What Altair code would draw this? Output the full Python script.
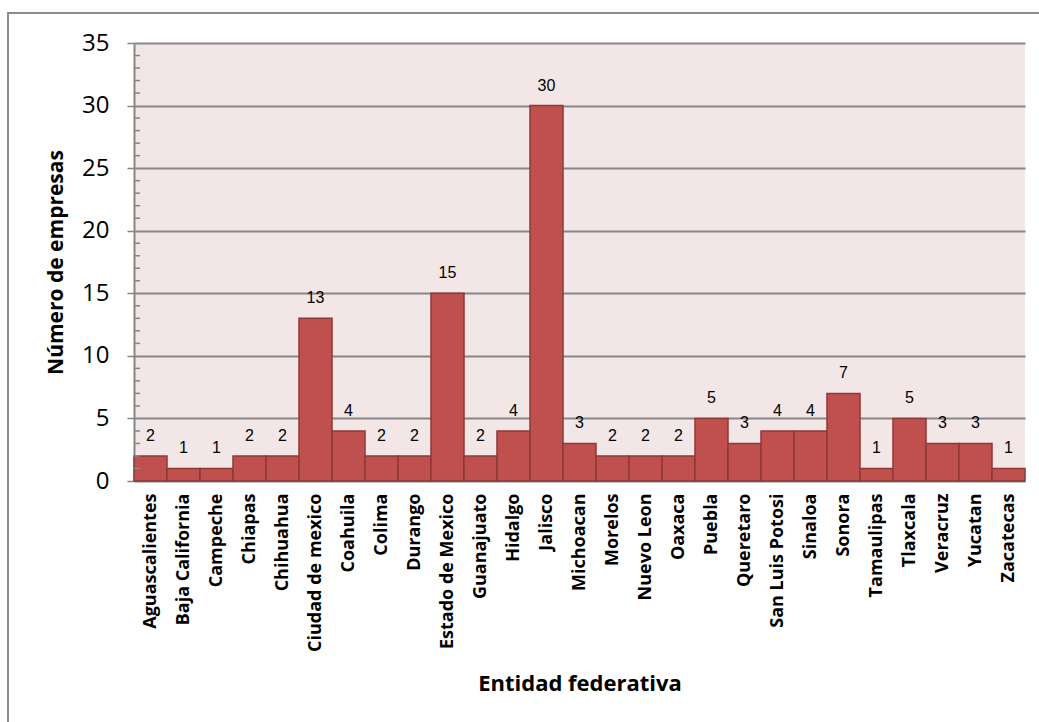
import altair as alt
import pandas as pd

# Companies per federal entity
estados = [
    "Aguascalientes", "Baja California", "Campeche", "Chiapas", "Chihuahua",
    "Ciudad de mexico", "Coahuila", "Colima", "Durango", "Estado de Mexico",
    "Guanajuato", "Hidalgo", "Jalisco", "Michoacan", "Morelos", "Nuevo Leon",
    "Oaxaca", "Puebla", "Queretaro", "San Luis Potosi", "Sinaloa", "Sonora",
    "Tamaulipas", "Tlaxcala", "Veracruz", "Yucatan", "Zacatecas",
]
empresas = [2, 1, 1, 2, 2, 13, 4, 2, 2, 15, 2, 4, 30, 3, 2, 2, 2, 5, 3, 4, 4, 7, 1, 5, 3, 3, 1]
minor_ticks = [v for v in range(0, 36) if v % 5 != 0]

df = pd.DataFrame({"estado": estados, "empresas": empresas})
minor_df = pd.DataFrame({"v": minor_ticks})

W, H = 891, 438
FONT = "Open Sans"

x_enc = alt.X(
    "estado:N",
    sort=estados,
    scale=alt.Scale(paddingInner=0, paddingOuter=0),
    axis=alt.Axis(
        title="Entidad federativa",
        labelAngle=-90,
        labelAlign="right",
        labelBaseline="middle",
        labelFont=FONT,
        labelFontWeight="bold",
        labelFontSize=18,
        labelColor="black",
        labelPadding=12,
        ticks=False,
        domain=False,
        titleFont=FONT,
        titleFontSize=22,
        titleFontWeight="bold",
        titleColor="black",
        titleY=202,
        titleBaseline="middle",
    ),
)
y_scale = alt.Scale(domain=[0, 35], nice=False)

bars = alt.Chart(df).mark_bar(
    color="#C0504D", stroke="#8C3A38", strokeWidth=1.5
).encode(
    x=x_enc,
    y=alt.Y(
        "empresas:Q",
        scale=y_scale,
        axis=alt.Axis(
            title="Número de empresas",
            values=[0, 5, 10, 15, 20, 25, 30, 35],
            labelFont=FONT,
            labelFontSize=24,
            labelColor="black",
            labelPadding=18,
            tickSize=7,
            tickColor="#868686",
            tickWidth=1.5,
            domainColor="#868686",
            domainWidth=2,
            grid=True,
            gridColor="#868686",
            gridWidth=2,
            titleFont=FONT,
            titleFontSize=21,
            titleFontWeight="bold",
            titleColor="black",
            titlePadding=15,
        ),
    ),
)

labels = alt.Chart(df).mark_text(
    font="Liberation Sans", fontSize=16, color="black", baseline="alphabetic", dy=-15
).encode(
    x=alt.X("estado:N", sort=estados),
    y=alt.Y("empresas:Q", scale=y_scale),
    text="empresas:Q",
)

minor = alt.Chart(minor_df).mark_rule(color="#868686", strokeWidth=1.5).encode(
    x=alt.value(0),
    x2=alt.value(6),
    y=alt.Y("v:Q", scale=y_scale),
)

frame = alt.Chart(df).mark_rect(
    fill=None, stroke="#8C8C8C", strokeWidth=2
).encode(
    x=alt.value(-126), x2=alt.value(940),
    y=alt.value(-30), y2=alt.value(720),
)

chart = alt.layer(bars, labels, minor, frame).properties(
    width=W,
    height=H,
    autosize=alt.AutoSizeParams(type="none"),
    padding={"left": 134, "top": 43, "right": 14, "bottom": 241},
    background="white",
).configure_view(
    fill="#F2E6E6", stroke=None
)

chart.save("out.html", embed_options={"renderer": "svg", "actions": False})
